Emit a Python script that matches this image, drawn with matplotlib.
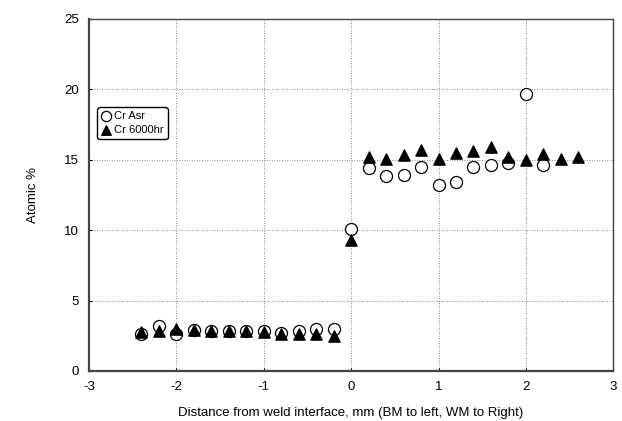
import matplotlib
matplotlib.use("Agg")
import matplotlib.pyplot as plt

plt.rcParams["font.family"] = ["Liberation Sans", "DejaVu Sans"]
plt.rcParams["axes.unicode_minus"] = False

# Cr Asr (open circles)
asr_x = [-2.4, -2.2, -2.0, -1.8, -1.6, -1.4, -1.2, -1.0, -0.8, -0.6, -0.4, -0.2,
         0.0, 0.2, 0.4, 0.6, 0.8, 1.0, 1.2, 1.4, 1.6, 1.8, 2.0, 2.2]
asr_y = [2.65, 3.2, 2.65, 2.9, 2.85, 2.85, 2.85, 2.8, 2.7, 2.85, 2.95, 2.95,
         10.1, 14.4, 13.85, 13.9, 14.5, 13.2, 13.45, 14.45, 14.6, 14.8, 19.7, 14.6]

# Cr 6000hr (filled triangles)
hr_x = [-2.4, -2.2, -2.0, -1.8, -1.6, -1.4, -1.2, -1.0, -0.8, -0.6, -0.4, -0.2,
        0.0, 0.2, 0.4, 0.6, 0.8, 1.0, 1.2, 1.4, 1.6, 1.8, 2.0, 2.2, 2.4, 2.6]
hr_y = [2.75, 2.8, 3.0, 2.9, 2.85, 2.8, 2.85, 2.75, 2.6, 2.65, 2.6, 2.5,
        9.3, 15.2, 15.05, 15.35, 15.7, 15.05, 15.5, 15.6, 15.9, 15.2, 14.95, 15.4, 15.05, 15.2]

fig = plt.figure(figsize=(6.22, 4.21), dpi=100)
ax = fig.add_axes([0.143, 0.119, 0.843, 0.836])

ax.scatter(asr_x, asr_y, s=75, facecolors="white", edgecolors="black",
           linewidths=0.9, marker="o", label="Cr Asr", zorder=3)
ax.scatter(hr_x, hr_y, s=65, color="black", marker="^", label="Cr 6000hr", zorder=4)

ax.set_xlim(-3, 3)
ax.set_ylim(0, 25)
ax.set_xticks(range(-3, 4))
ax.set_yticks(range(0, 26, 5))
ax.grid(True, color="#666666", linestyle=(0, (1, 2)), linewidth=0.6)
ax.set_axisbelow(True)

for side in ["left", "bottom"]:
    ax.spines[side].set_linewidth(1.6)
    ax.spines[side].set_color("#444444")
for side in ["top", "right"]:
    ax.spines[side].set_linewidth(1.0)
    ax.spines[side].set_color("#444444")

ax.tick_params(direction="in", length=2, labelsize=9.5, pad=7)
ax.set_xlabel("Distance from weld interface, mm (BM to left, WM to Right)",
              fontsize=9.5, labelpad=10)
ax.set_ylabel("Atomic %", fontsize=9.5, labelpad=18)

leg = ax.legend(loc="upper left", bbox_to_anchor=(0.012, 0.755), fontsize=8,
                frameon=True, fancybox=True, edgecolor="black", framealpha=1,
                handletextpad=0.25, borderpad=0.35, handlelength=0.9,
                labelspacing=0.35, markerscale=0.85, borderaxespad=0.2)
leg.get_frame().set_linewidth(1.0)

fig.savefig("out.png", dpi=100, facecolor="white")
